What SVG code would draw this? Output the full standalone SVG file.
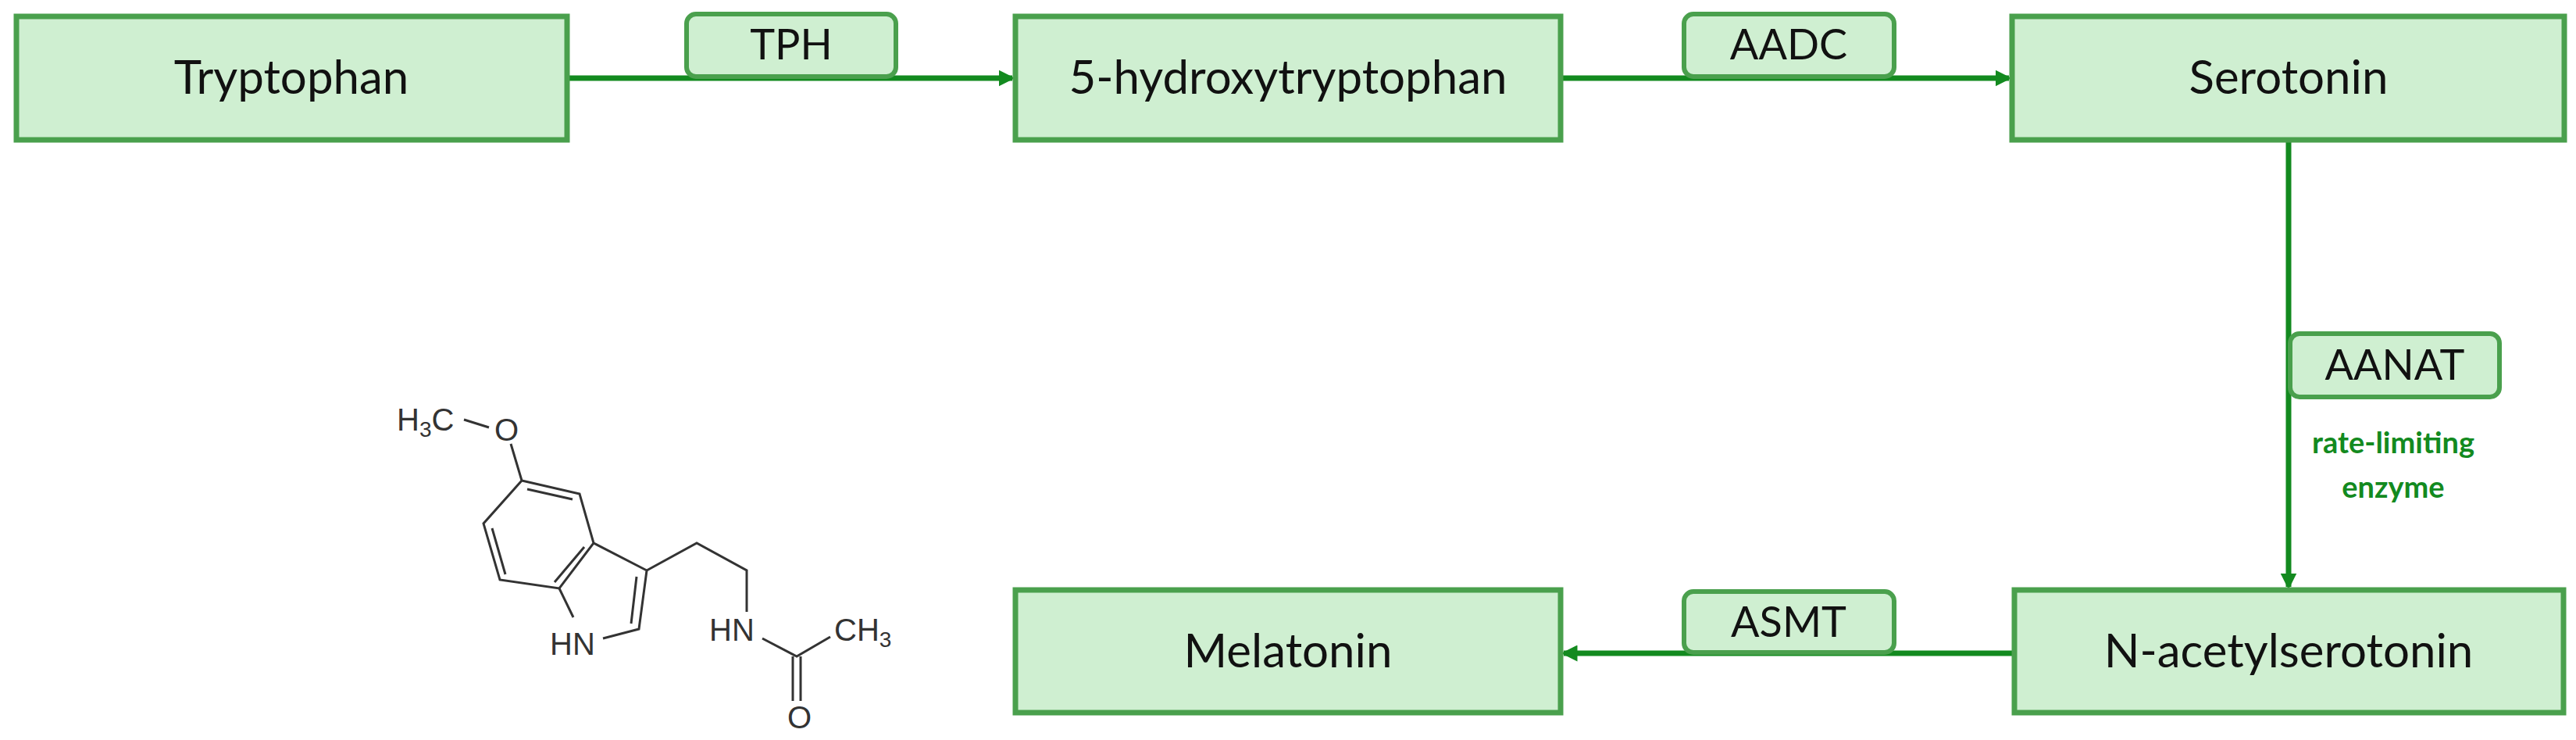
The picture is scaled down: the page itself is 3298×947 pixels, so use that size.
<svg xmlns="http://www.w3.org/2000/svg" width="3298" height="947" viewBox="0 0 3298 947">
<style>
.box{fill:#cfefd1;stroke:#4aa04d;stroke-width:7}
.enz{fill:#cfefd1;stroke:#4aa04d;stroke-width:6}
.t{font-family:Lato,"Open Sans",sans-serif;font-size:60px;fill:#111;text-anchor:middle}
.e{font-family:Lato,"Open Sans",sans-serif;font-size:54px;fill:#111;text-anchor:middle}
.g{font-family:Lato,"Open Sans",sans-serif;font-size:38px;font-weight:bold;fill:#138a1f;text-anchor:middle}
.c{stroke:#138a1f;stroke-width:7;fill:none}
.b{stroke:#333;stroke-width:3}
.a{font-family:"Liberation Sans",Arial,sans-serif;font-size:40px;fill:#333}
</style>
<defs><marker id="ah" markerWidth="3" markerHeight="3" refX="2.5" refY="1.5" orient="auto" markerUnits="strokeWidth"><path d="M0,0L3,1.5L0,3z" fill="#138a1f"/></marker></defs>
<g id="connectors">
<path class="c" d="M726,100H1296" marker-end="url(#ah)"/>
<path class="c" d="M1998,100H2572" marker-end="url(#ah)"/>
<path class="c" d="M2930,179V751" marker-end="url(#ah)"/>
<path class="c" d="M2579,836H2002" marker-end="url(#ah)"/>
</g>
<g id="tryptophan"><rect class="box" x="21" y="21" width="705" height="158"/><text class="t" x="373" y="120">Tryptophan</text></g>
<g id="htp"><rect class="box" x="1300" y="21" width="698" height="158"/><text class="t" x="1649" y="120">5-hydroxytryptophan</text></g>
<g id="serotonin"><rect class="box" x="2576" y="21" width="707" height="158"/><text class="t" x="2930" y="120">Serotonin</text></g>
<g id="nacetyl"><rect class="box" x="2579" y="755" width="703" height="157"/><text class="t" x="2930" y="854">N-acetylserotonin</text></g>
<g id="melatonin"><rect class="box" x="1300" y="755" width="698" height="157"/><text class="t" x="1649" y="854">Melatonin</text></g>
<g id="tph"><rect class="enz" x="879" y="18" width="268" height="80" rx="12"/><text class="e" x="1013" y="76">TPH</text></g>
<g id="aadc"><rect class="enz" x="2156" y="18" width="269" height="80" rx="12"/><text class="e" x="2290" y="76">AADC</text></g>
<g id="aanat"><rect class="enz" x="2932" y="427" width="268" height="81" rx="12"/><text class="e" x="3066" y="486">AANAT</text><text class="g" x="3064" y="580">rate-limiting</text><text class="g" x="3064" y="637">enzyme</text></g>
<g id="asmt"><rect class="enz" x="2156" y="757" width="269" height="78" rx="12"/><text class="e" x="2290" y="815">ASMT</text></g>
<g id="molecule" fill="none">
<text class="a" x="508" y="551">H<tspan font-size="28" dy="8">3</tspan><tspan dy="-8">C</tspan></text>
<text class="a" x="633" y="564">O</text>
<path class="b" d="M594,537L626,547M654,568L668,615L742,632L760,695L716,753L640,742L619,670L668,615"/>
<path class="b" d="M675,626L733,639M630,676L647,735M748,700L710,745"/>
<path class="b" d="M760,695L828,730L818,805L772,817M716,753L734,790M815,738L808,798"/>
<text class="a" x="704" y="838">HN</text>
<path class="b" d="M828,730L892,695L956,730L956,783"/>
<text class="a" x="908" y="820">HN</text>
<path class="b" d="M976,817L1020,840L1063,815M1015,840V897M1025,840V897"/>
<text class="a" x="1068" y="820">CH<tspan font-size="28" dy="8">3</tspan></text>
<text class="a" x="1008" y="932">O</text>
</g>
</svg>
